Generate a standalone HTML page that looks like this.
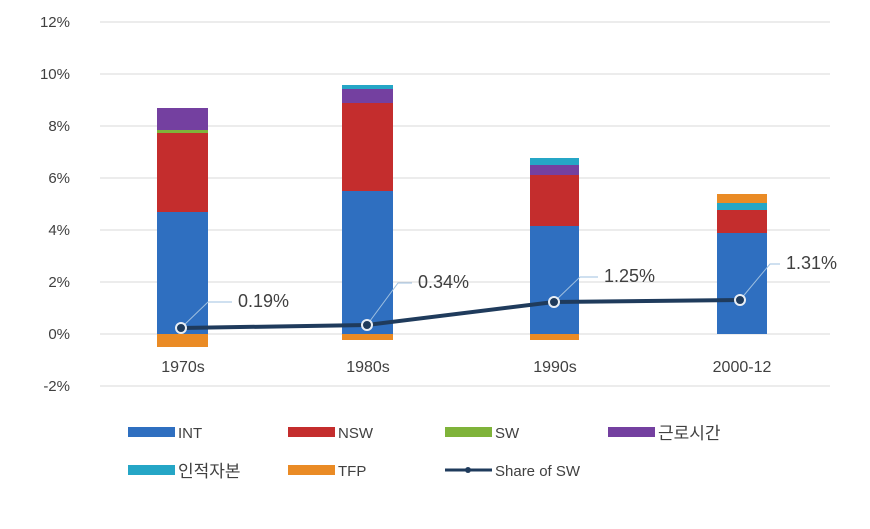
<!DOCTYPE html><html><head><meta charset="utf-8"><style>body{margin:0;background:#fff}svg{display:block}text{font-family:"Liberation Sans","Noto Sans CJK KR",sans-serif;fill:#404040}</style></head><body>
<svg width="870" height="529" viewBox="0 0 870 529">
<g stroke="#d9d9d9" stroke-width="1">
<line x1="100" x2="830" y1="22" y2="22"/><line x1="100" x2="830" y1="74" y2="74"/><line x1="100" x2="830" y1="126" y2="126"/><line x1="100" x2="830" y1="178" y2="178"/><line x1="100" x2="830" y1="230" y2="230"/><line x1="100" x2="830" y1="282" y2="282"/><line x1="100" x2="830" y1="334" y2="334"/><line x1="100" x2="830" y1="386" y2="386"/>
</g>
<g font-size="15" text-anchor="end">
<text x="70" y="27">12%</text><text x="70" y="79">10%</text><text x="70" y="131">8%</text><text x="70" y="183">6%</text><text x="70" y="235">4%</text><text x="70" y="287">2%</text><text x="70" y="339">0%</text><text x="70" y="391">-2%</text>
</g>
<!-- bars -->
<g>
<rect x="157" y="212" width="51" height="122" fill="#2f6fc0"/><rect x="157" y="133" width="51" height="79" fill="#c42d2d"/><rect x="157" y="130" width="51" height="3" fill="#7fb33a"/><rect x="157" y="108" width="51" height="22" fill="#7440a0"/><rect x="157" y="334" width="51" height="13" fill="#ea8b25"/>
<rect x="342" y="191" width="51" height="143" fill="#2f6fc0"/><rect x="342" y="103" width="51" height="88" fill="#c42d2d"/><rect x="342" y="89" width="51" height="14" fill="#7440a0"/><rect x="342" y="85" width="51" height="4" fill="#25a6c6"/><rect x="342" y="334" width="51" height="6" fill="#ea8b25"/>
<rect x="530" y="226" width="49" height="108" fill="#2f6fc0"/><rect x="530" y="175" width="49" height="51" fill="#c42d2d"/><rect x="530" y="165" width="49" height="10" fill="#7440a0"/><rect x="530" y="158" width="49" height="7" fill="#25a6c6"/><rect x="530" y="334" width="49" height="6" fill="#ea8b25"/>
<rect x="717" y="233" width="50" height="101" fill="#2f6fc0"/><rect x="717" y="210" width="50" height="23" fill="#c42d2d"/><rect x="717" y="203" width="50" height="7" fill="#25a6c6"/><rect x="717" y="194" width="50" height="9" fill="#ea8b25"/>
</g>
<polyline points="181,328 367,325 554,302 740,300" fill="none" stroke="#1f3b5c" stroke-width="4"/>
<g stroke="#9fc0e0" stroke-width="1" fill="none">
<path d="M181,328 L208,302 L232,302"/><path d="M367,325 L398,283 L412,283"/><path d="M554,302 L580,277 L598,277"/><path d="M740,300 L770,264 L780,264"/>
</g>
<g fill="#1f3b5c" stroke="#e8eef5" stroke-width="2">
<circle cx="181" cy="328" r="5"/><circle cx="367" cy="325" r="5"/><circle cx="554" cy="302" r="5"/><circle cx="740" cy="300" r="5"/>
</g>
<g font-size="18">
<text x="238" y="307">0.19%</text><text x="418" y="288">0.34%</text><text x="604" y="282">1.25%</text><text x="786" y="269">1.31%</text>
</g>
<g font-size="16" text-anchor="middle">
<text x="183" y="372">1970s</text><text x="368" y="372">1980s</text><text x="555" y="372">1990s</text><text x="742" y="372">2000-12</text>
</g>
<g font-size="15">
<rect x="128" y="427" width="47" height="10" fill="#2f6fc0"/><text x="178" y="438">INT</text>
<rect x="288" y="427" width="47" height="10" fill="#c42d2d"/><text x="338" y="438">NSW</text>
<rect x="445" y="427" width="47" height="10" fill="#7fb33a"/><text x="495" y="438">SW</text>
<rect x="608" y="427" width="47" height="10" fill="#7440a0"/><text x="658" y="439" font-size="17">근로시간</text>
<rect x="128" y="465" width="47" height="10" fill="#25a6c6"/><text x="178" y="477" font-size="17">인적자본</text>
<rect x="288" y="465" width="47" height="10" fill="#ea8b25"/><text x="338" y="476">TFP</text>
<line x1="445" x2="492" y1="470" y2="470" stroke="#1f3b5c" stroke-width="3"/><circle cx="468" cy="470" r="3" fill="#1f3b5c"/><text x="495" y="476">Share of SW</text>
</g>
</svg></body></html>
